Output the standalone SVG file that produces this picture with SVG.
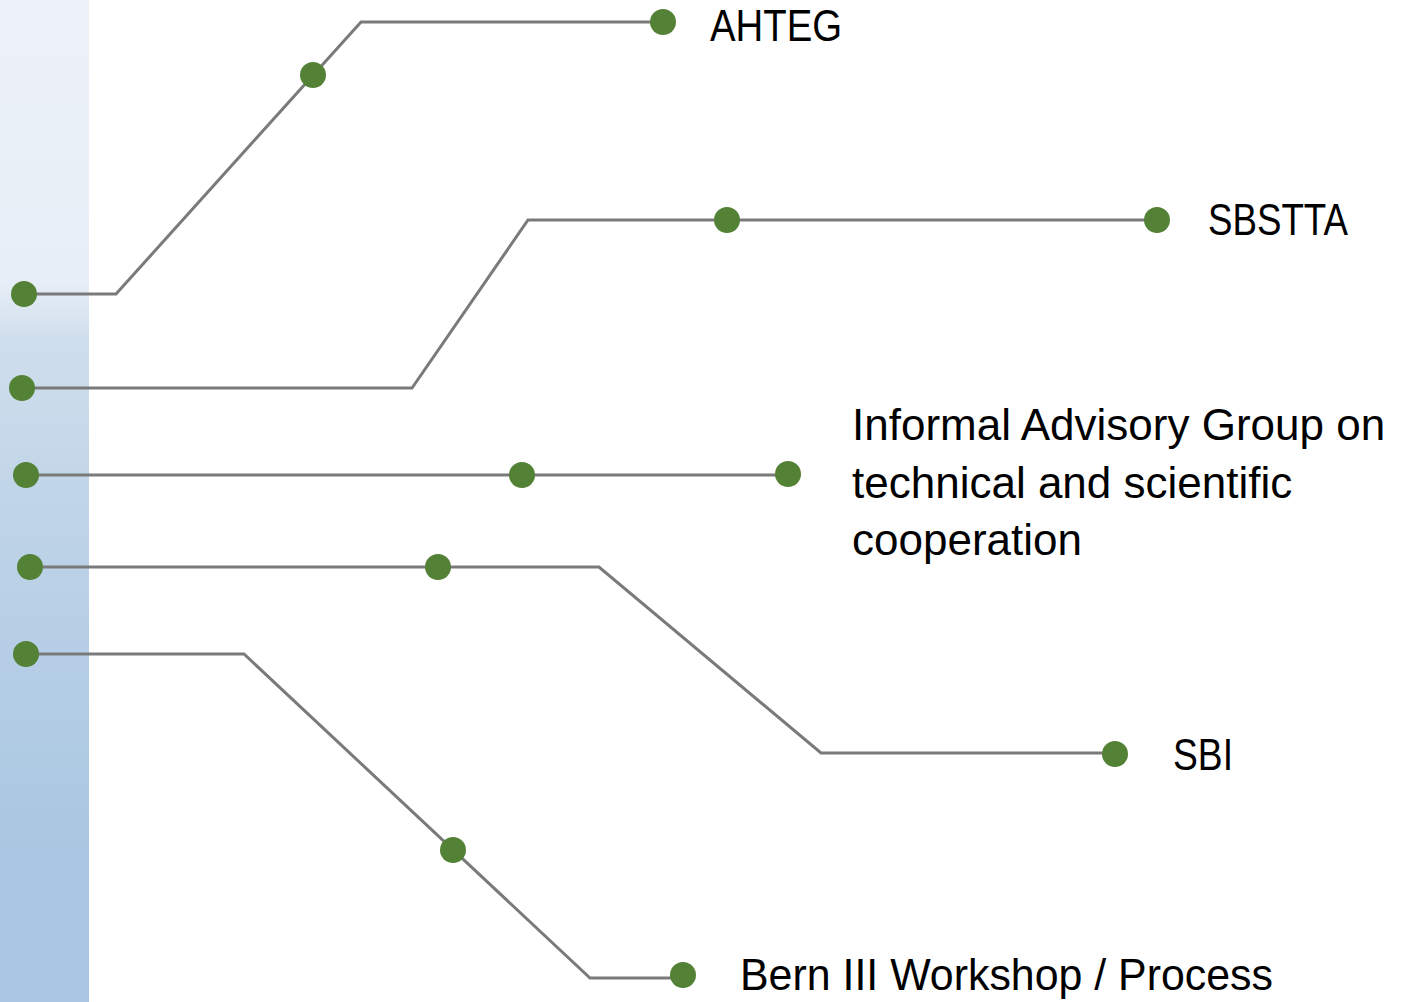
<svg xmlns="http://www.w3.org/2000/svg" width="1422" height="1002" viewBox="0 0 1422 1002">
  <defs>
    <linearGradient id="strip" x1="0" y1="0" x2="0" y2="1">
      <stop offset="0" stop-color="#edf2f8"/>
      <stop offset="0.28" stop-color="#e7eef7"/>
      <stop offset="0.34" stop-color="#cfdeec"/>
      <stop offset="0.55" stop-color="#bcd2e7"/>
      <stop offset="0.85" stop-color="#a9c7e2"/>
      <stop offset="1" stop-color="#a8c6e1"/>
    </linearGradient>
  </defs>
  <style>
    .conn { fill: none; stroke: #7a7a7a; stroke-width: 3; stroke-linejoin: miter; }
    .dot { fill: #538135; }
    .lbl { font-family: "Liberation Sans", Arial, sans-serif; font-size: 44px; fill: #000000; }
  </style>
  <rect x="0" y="0" width="1422" height="1002" fill="#ffffff"/>
  <rect x="0" y="0" width="89" height="1002" fill="url(#strip)"/>

  <g id="connectors">
    <polyline class="conn" points="24,294 116,294 361,22 665,22"/>
    <polyline class="conn" points="22,388 412,388 528,220 1157,220"/>
    <polyline class="conn" points="26,475 788,475"/>
    <polyline class="conn" points="30,567 599,567 821,753 1115,753"/>
    <polyline class="conn" points="26,654 244,654 590,978 683,978"/>
  </g>

  <g id="node-ahteg">
    <circle class="dot" cx="24" cy="294" r="13"/>
    <circle class="dot" cx="313" cy="75" r="13"/>
    <circle class="dot" cx="663" cy="22" r="13"/>
    <text class="lbl" x="710" y="41" textLength="132" lengthAdjust="spacingAndGlyphs">AHTEG</text>
  </g>
  <g id="node-sbstta">
    <circle class="dot" cx="22" cy="388" r="13"/>
    <circle class="dot" cx="727" cy="220" r="13"/>
    <circle class="dot" cx="1157" cy="220" r="13"/>
    <text class="lbl" x="1208" y="235" textLength="140" lengthAdjust="spacingAndGlyphs">SBSTTA</text>
  </g>
  <g id="node-informal">
    <circle class="dot" cx="26" cy="475" r="13"/>
    <circle class="dot" cx="522" cy="475" r="13"/>
    <circle class="dot" cx="788" cy="474" r="13"/>
    <text class="lbl" x="852" y="440">Informal Advisory Group on</text>
    <text class="lbl" x="852" y="498">technical and scientific</text>
    <text class="lbl" x="852" y="555">cooperation</text>
  </g>
  <g id="node-sbi">
    <circle class="dot" cx="30" cy="567" r="13"/>
    <circle class="dot" cx="438" cy="567" r="13"/>
    <circle class="dot" cx="1115" cy="754" r="13"/>
    <text class="lbl" x="1173" y="770" textLength="60" lengthAdjust="spacingAndGlyphs">SBI</text>
  </g>
  <g id="node-bern">
    <circle class="dot" cx="26" cy="654" r="13"/>
    <circle class="dot" cx="453" cy="850" r="13"/>
    <circle class="dot" cx="683" cy="975" r="13"/>
    <text class="lbl" x="740" y="990" textLength="533" lengthAdjust="spacingAndGlyphs">Bern III Workshop / Process</text>
  </g>
</svg>
